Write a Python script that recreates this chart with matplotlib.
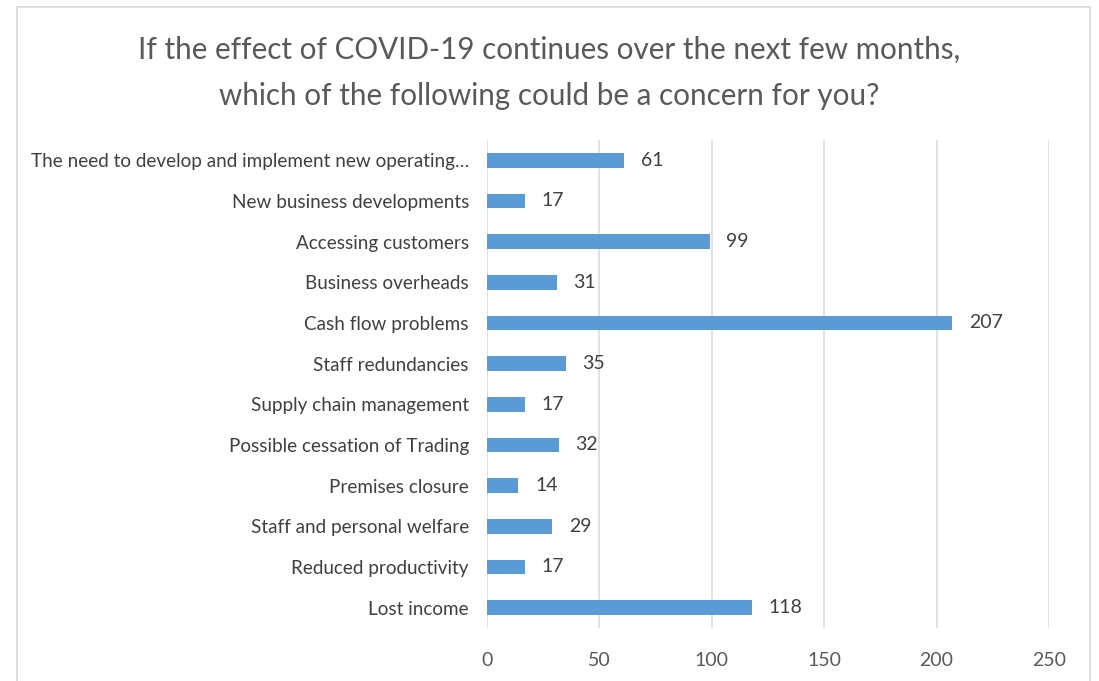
import matplotlib
matplotlib.use("Agg")
import matplotlib.pyplot as plt
from matplotlib.patches import Rectangle

categories = [
    "The need to develop and implement new operating\u2026",
    "New business developments",
    "Accessing customers",
    "Business overheads",
    "Cash flow problems",
    "Staff redundancies",
    "Supply chain management",
    "Possible cessation of Trading",
    "Premises closure",
    "Staff and personal welfare",
    "Reduced productivity",
    "Lost income",
]
values = [61, 17, 99, 31, 207, 35, 17, 32, 14, 29, 17, 118]
xticks = [0, 50, 100, 150, 200, 250]
title = ("If the effect of COVID-19 continues over the next few months,\n"
         "which of the following could be a concern for you?")

plt.rcParams['font.family'] = ['Lato', 'DejaVu Sans']

W, H = 1099, 681
fig = plt.figure(figsize=(W / 100, H / 100), dpi=100)
fig.patch.set_facecolor("white")

# chart border
fig.patches.append(Rectangle((17 / W, -0.02), (1090 - 17) / W, 1 - 7 / H + 0.02,
                             transform=fig.transFigure, fill=False,
                             edgecolor="#D9D9D9", linewidth=1.2))

ax = fig.add_axes([487 / W, 1 - 628 / H, (1049 - 487) / W, (628 - 140) / H])
n = len(categories)
ypos = list(range(n))
ax.barh(ypos, values, height=0.36, color="#5B9BD5", zorder=3)
ax.set_ylim(n - 0.5, -0.5)
ax.set_xlim(0, 250)
ax.set_xticks(xticks)
ax.set_yticks(ypos)
ax.set_yticklabels(categories, fontsize=13.6, color="#404040")
ax.tick_params(axis="y", length=0, pad=13)
ax.tick_params(axis="x", length=0, pad=17, labelsize=14, labelcolor="#595959")
for s in ax.spines.values():
    s.set_visible(False)
ax.grid(axis="x", color="#D9D9D9", linewidth=1.1, zorder=0)

for y, v in zip(ypos, values):
    ax.annotate(str(v), (v, y), xytext=(12, 0), textcoords="offset points",
                va="center", ha="left", fontsize=14, color="#404040")

fig.text(0.5, 1 - 73 / H, title, ha="center", va="center", fontsize=21.3,
         color="#595959", linespacing=1.82)

fig.savefig("out.png", dpi=100)
